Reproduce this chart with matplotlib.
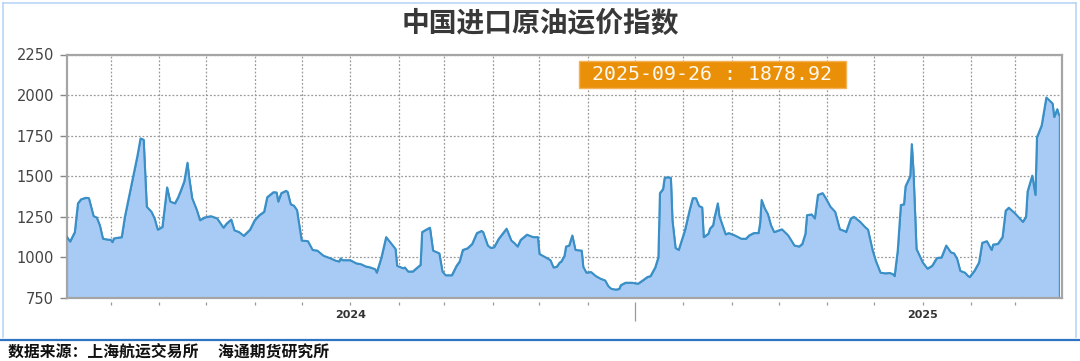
import matplotlib
matplotlib.use("Agg")
import matplotlib.pyplot as plt
import matplotlib.dates as mdates
from matplotlib.lines import Line2D
from matplotlib.patches import Rectangle
import numpy as np
import pandas as pd

plt.rcParams['font.family'] = ['Noto Sans CJK SC', 'DejaVu Sans']

title = "中国进口原油运价指数"
source = "数据来源：上海航运交易所\u3000 海通期货研究所"
last_label = "2025-09-26 : 1878.92"

# days counted from 2024-01-01
base_date = "2024-01-01"
days = [-181, -179, -176, -174, -172, -169, -167, -164, -162, -160, -158, -155, -153, -152, -151,
        -146, -144, -140, -136, -134, -132, -130, -127, -125, -123, -120, -117, -115, -112, -110,
        -108, -106, -104, -103, -101, -98, -96, -93, -89, -85, -81, -79, -76, -74, -71, -68, -64,
        -61, -58, -55, -53, -49, -47, -46, -44, -41, -40, -38, -36, -34, -31, -27,
        -24, -21, -17, -13, -9, -7, -6, -5, 0, 4, 7, 10, 13, 16, 17, 20, 23, 26, 29, 30, 34, 35,
        37, 40, 43, 45, 46, 49, 51, 53, 57, 59, 61, 65, 68, 70, 72, 75, 78, 81, 84, 85, 88, 90,
        92, 95, 100, 103, 105, 107, 109, 113, 117, 120, 121, 125, 128, 130, 132, 134,
        135, 137, 138, 140, 142, 144, 148, 149, 151, 154, 157, 160, 163, 165, 167, 170, 172, 173,
        176, 180, 184, 187, 190, 192, 195, 197, 198, 200, 201, 203, 205, 206, 208, 210, 214, 217,
        219, 221, 223, 225, 226, 229, 230, 232, 233, 235, 236, 238, 240, 242, 246, 250, 253, 255,
        258, 261, 262, 263, 265, 267, 269, 271, 273, 276, 280, 284, 287, 289, 291, 292,
        295, 297, 299, 302, 304, 307, 310, 313, 316, 317, 320, 322, 326, 329, 331, 334, 336, 339,
        342, 345, 347, 348, 350, 352, 354, 355, 358, 359, 360, 362, 364, 366, 369, 372, 375, 378,
        381, 384, 386, 388, 390, 393, 395, 396, 399, 402, 404, 407, 410, 411, 414, 417, 419, 421,
        425, 428, 430, 432, 433, 436, 438, 439, 442, 445, 449, 450, 452, 453]
index_values = [1125, 1098, 1156, 1333, 1358, 1367, 1365, 1254, 1246, 1198, 1115, 1110, 1108, 1094, 1117,
                1125, 1250, 1438, 1625, 1733, 1725, 1312, 1281, 1240, 1171, 1188, 1431, 1344, 1333, 1369,
                1417, 1469, 1583, 1500, 1365, 1292, 1229, 1246, 1254, 1240, 1183, 1208, 1233, 1167, 1156, 1133, 1171,
                1229, 1260, 1281, 1371, 1402, 1400, 1344, 1396, 1410, 1404, 1327, 1319, 1292, 1104, 1100,
                1046, 1042, 1010, 996, 979, 975, 994, 983, 983, 963, 958, 944, 938, 927, 906, 1000, 1125, 1088, 1052, 948, 933, 938,
                913, 913, 938, 954, 1156, 1173, 1183, 1042, 1025, 913, 890, 890, 948, 975, 1046, 1056, 1083, 1150, 1163, 1156, 1073, 1058,
                1063, 1115, 1177, 1104, 1088, 1067, 1108, 1140, 1125, 1125, 1021, 1000, 983, 938, 942, 969,
                975, 1010, 1067, 1073, 1135, 1046, 1042, 942, 906, 910, 885, 869, 858, 823, 806, 802, 806, 829,
                844, 844, 838, 858, 879, 885, 938, 1000, 1396, 1421, 1490, 1494, 1490, 1229, 1058, 1046, 1167, 1292,
                1365, 1365, 1317, 1308, 1125, 1146, 1177, 1198, 1250, 1333, 1254, 1198, 1142, 1150, 1135, 1115, 1115, 1135,
                1150, 1150, 1208, 1354, 1302, 1267, 1198, 1156, 1163, 1173, 1135, 1073, 1067, 1083, 1146, 1260,
                1265, 1240, 1385, 1396, 1365, 1312, 1281, 1173, 1163, 1156, 1240, 1250, 1219, 1188, 1171, 1042, 979, 906,
                902, 904, 896, 885, 1042, 1323, 1327, 1438, 1500, 1698, 1542, 1052, 1010, 969, 931, 948, 996, 1000,
                1073, 1031, 1025, 990, 917, 906, 885, 879, 917, 969, 1090, 1100, 1046, 1079, 1083, 1125, 1288, 1306,
                1271, 1240, 1219, 1250, 1406, 1504, 1385, 1740, 1813, 1985, 1948, 1865, 1913, 1879]

y_ticks = [750, 1000, 1250, 1500, 1750, 2000, 2250]
month_ticks = pd.date_range("2023-08-01", "2025-03-01", freq="MS")
month_labels = [str(d.year) if d.month == 1 else "" for d in month_ticks]

dates = pd.Timestamp(base_date) + pd.to_timedelta(days, unit="D")
x = mdates.date2num(dates.to_pydatetime())
x_ticks = mdates.date2num(month_ticks.to_pydatetime())
x_end = mdates.date2num(pd.Timestamp(base_date) + pd.Timedelta(days=455))

line_color = "#3a8fc6"
fill_color = "#a7cbf4"
grid_color = "#9a9a9a"

fig = plt.figure(figsize=(10.8, 3.61), dpi=100)
ax = fig.add_axes([67 / 1080, 1 - 298 / 361, 995 / 1080, 243.5 / 361])

ax.fill_between(x, index_values, 750, facecolor=fill_color, edgecolor=line_color, linewidth=0.8, zorder=2)
ax.plot(x, index_values, color=line_color, linewidth=1.5, zorder=3)

ax.set_xlim(x[0], x_end)
ax.set_ylim(750, 2250)
ax.set_yticks(y_ticks)
ax.set_yticklabels([str(v) for v in y_ticks], family="DejaVu Sans", fontsize=10.5, color="#444444")
ax.tick_params(axis="y", length=5, width=1, color="#888888", pad=4.3)
ax.set_xticks(x_ticks)
ax.tick_params(axis="x", length=0, labelbottom=False)
ax.grid(True, color=grid_color, linestyle=(0, (1.5, 1.5)), linewidth=0.9, zorder=1)
for s in ax.spines.values():
    s.set_color("#a5a5a5")
    s.set_linewidth(1.6)

# ticks sit a little below the frame
sec = ax.secondary_xaxis(-0.018)
sec.set_xticks(x_ticks)
sec.set_xticklabels(month_labels, family="DejaVu Sans", fontsize=8, fontweight="bold", color="#333333")
sec.tick_params(axis="x", length=2.4, width=0.9, color="#999999", pad=3.4)
sec.spines["bottom"].set_visible(False)
jul = list(month_ticks).index(pd.Timestamp("2024-07-01"))
sec.xaxis.get_major_ticks()[jul].tick1line.set_markersize(13.5)

fig.text(0.5, 1 - 24 / 361, title, ha="center", va="center", fontsize=20, fontweight="bold", color="#383838")

fig.patches.append(Rectangle((579 / 1080, 1 - 88 / 361), 267 / 1080, 27 / 361, transform=fig.transFigure,
                             facecolor="#ea9008", edgecolor="#f2b25a", linewidth=1, zorder=5))
fig.text(712.5 / 1080, 1 - 74.5 / 361, last_label, ha="center", va="center", family="DejaVu Sans Mono",
         fontsize=14.3, color="#fff8ee", zorder=6)

fig.text(8 / 1080, 1 - 352 / 361, source, ha="left", va="center", fontsize=11.4, fontweight="bold", color="#111111")

# outer frame lines
frame = "#b9d6f3"
fig.add_artist(Line2D([3 / 1080, 3 / 1080], [1 - 337 / 361, 1 - 3 / 361], color=frame, linewidth=1.2))
fig.add_artist(Line2D([3 / 1080, 1076 / 1080], [1 - 3 / 361, 1 - 3 / 361], color=frame, linewidth=1.2))
fig.add_artist(Line2D([1076 / 1080, 1076 / 1080], [1 - 337 / 361, 1 - 3 / 361], color=frame, linewidth=1.2))
fig.add_artist(Line2D([0, 1], [1 - 340 / 361, 1 - 340 / 361], color="#2f74c2", linewidth=1.6))

fig.savefig("out.png", dpi=100)
